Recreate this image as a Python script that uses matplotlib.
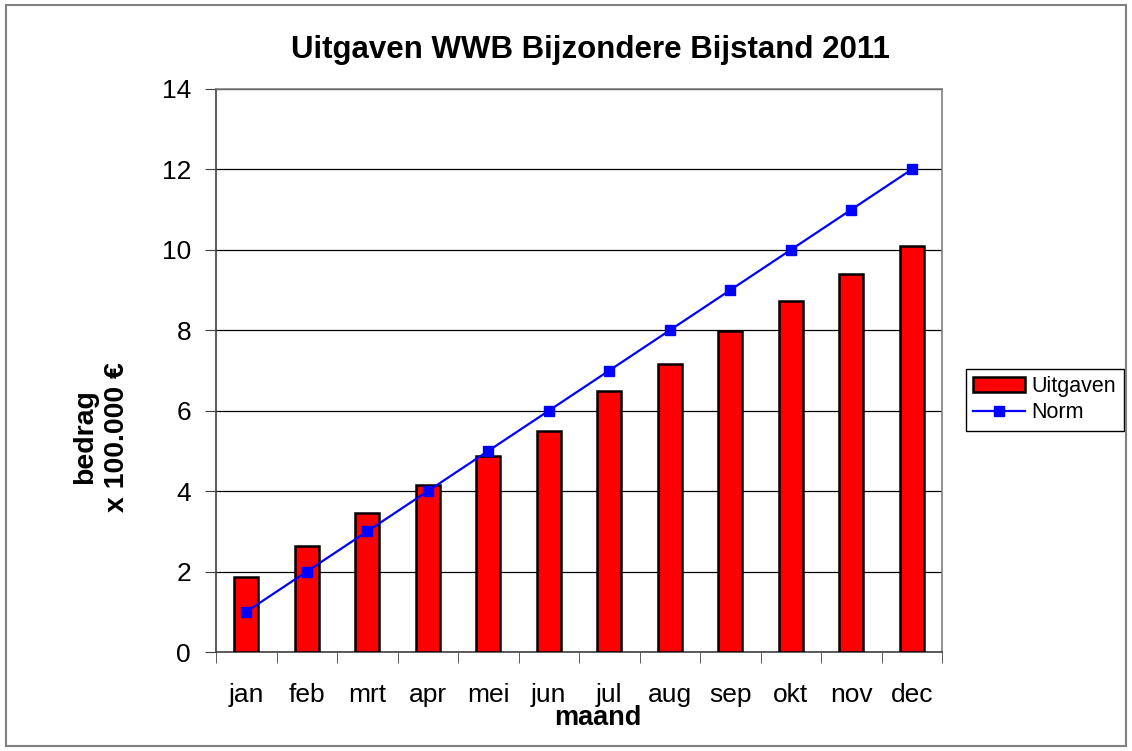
import matplotlib.pyplot as plt
import numpy as np
from matplotlib.patches import Rectangle

# gegevens
maanden = ['jan', 'feb', 'mrt', 'apr', 'mei', 'jun', 'jul', 'aug', 'sep', 'okt', 'nov', 'dec']
uitgaven = [1.87, 2.64, 3.46, 4.15, 4.88, 5.50, 6.49, 7.16, 7.99, 8.73, 9.40, 10.10]
norm = [1, 2, 3, 4, 5, 6, 7, 8, 9, 10, 11, 12]

plt.rcParams['font.family'] = ['Liberation Sans', 'DejaVu Sans']

fig = plt.figure(figsize=(11.32, 7.51), dpi=100)
ax = fig.add_axes([216/1132, 1-652/751, 726/1132, 563/751])

x = np.arange(len(maanden))
ax.bar(x, uitgaven, width=0.4, color='#ff0000', edgecolor='black', linewidth=1.8,
       label='Uitgaven', zorder=3)
ax.plot(x, norm, color='#0000ff', linewidth=1.6, marker='s', markersize=6.5,
        label='Norm', zorder=4)

ax.set_xlim(-0.5, 11.5)
ax.set_ylim(0, 14)
ax.set_yticks(range(0, 15, 2))
ax.yaxis.grid(True, color='black', linewidth=0.9, zorder=0)
ax.set_axisbelow(True)

# tick streepjes op de grenzen, labels in het midden
ax.set_xticks(x)
ax.set_xticklabels(maanden)
ax.set_xticks(np.arange(-0.5, 12, 1), minor=True)
ax.tick_params(axis='x', which='major', length=0, pad=22, labelsize=19)
ax.tick_params(axis='x', which='minor', length=8, direction='out', color='#404040')
ax.tick_params(axis='y', length=8, direction='out', pad=10, labelsize=19, color='#404040')

for s in ['left', 'bottom']:
    ax.spines[s].set_color('#404040')
    ax.spines[s].set_linewidth(1.2)
for s in ['top', 'right']:
    ax.spines[s].set_color('#808080')
    ax.spines[s].set_linewidth(1.2)

fig.text(590/1132, 1-50/751, 'Uitgaven WWB Bijzondere Bijstand 2011', ha='center', va='center',
         fontsize=22.5, fontweight='bold')
fig.text(598/1132, 1-718/751, 'maand', ha='center', va='center', fontsize=19.5, fontweight='bold')
fig.text(101/1132, 1-437/751, 'bedrag\nx 100.000 €', rotation=90, ha='center', va='center',
         fontsize=20.5, fontweight='bold', linespacing=1.3)

h, l = ax.get_legend_handles_labels()
leg = ax.legend(h[::-1], l[::-1], loc='center left', bbox_to_anchor=(1.033, 0.448), fontsize=15.5,
                frameon=True, fancybox=False, edgecolor='black', framealpha=1,
                handlelength=2.4, borderpad=0.35, labelspacing=0.25, handletextpad=0.3,
                borderaxespad=0)
leg.get_frame().set_linewidth(1.0)

# grijze rand om de hele grafiek
fig.patches.append(Rectangle((6/1132, 5/751), 1120/1132, 741/751, transform=fig.transFigure,
                             fill=False, edgecolor='#808080', linewidth=1.5))

fig.savefig('out.png', dpi=100)
